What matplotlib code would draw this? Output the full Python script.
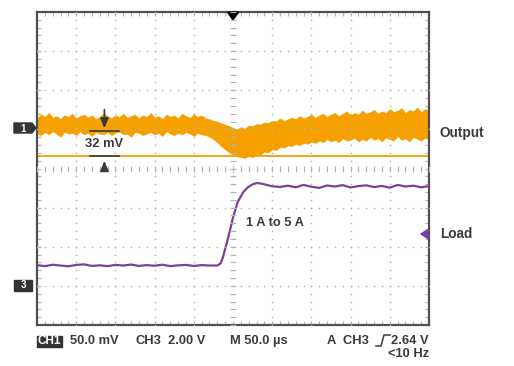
import matplotlib
matplotlib.use('Agg')
import matplotlib.pyplot as plt
import numpy as np
from matplotlib.patches import Polygon, Rectangle
from matplotlib.lines import Line2D

# ---------------- data ----------------
# time axis of the output envelope, microseconds (trigger at 0), 5 us samples
time_us = list(range(-250, 255, 5))
# output voltage noise envelope (mV, relative to CH1 ground marker)
out_upper_mv = [12, 17, 14, 19, 13, 15, 11, 16, 14, 18, 12, 15, 17, 13, 16, 11, 14, 19, 15, 12,
                16, 14, 18, 13, 15, 17, 12, 16, 14, 19, 13, 15, 11, 17, 14, 16, 12, 18, 15, 13,
                17, 14, 16, 12,
                11, 9, 8, 6, 4, 2, 0,
                -2, 1, -1, 3, 2, 5, 4, 7, 6, 9,
                8, 12, 9, 11, 13, 11, 15, 12, 14, 17,
                13, 16, 18, 14, 17, 19, 15, 18, 21, 16,
                19, 17, 22, 18, 20, 23, 18, 21, 19, 24,
                20, 22, 25, 19, 23, 21, 26, 20, 24, 22]
out_lower_mv = [-6, -9, -5, -8, -4, -7, -11, -5, -7, -6, -9, -4, -8, -6, -10, -5, -7, -8, -5, -9,
                -6, -4, -8, -7, -11, -5, -6, -9, -7, -5, -8, -6, -10, -4, -7, -9, -6, -8, -5, -7,
                -10, -6, -8, -9,
                -11, -14, -18, -23, -27, -31, -34,
                -36, -37, -38, -36, -37, -33, -34, -30, -31, -27,
                -28, -24, -25, -22, -23, -20, -22, -19, -20, -17,
                -19, -16, -18, -14, -17, -15, -18, -13, -16, -15,
                -12, -17, -14, -16, -11, -15, -13, -17, -12, -14,
                -16, -10, -15, -13, -17, -11, -14, -16, -12, -14]
ref_level_mv = -36      # horizontal reference line (32 mV below trace)
dip_top_mv = -4         # upper marker of the 32 mV annotation

# load current (CH3, 1 V/A), amps
load_t_us = (list(range(-250, -25, 10))
             + [-20, -16, -13, -6, 0, 6, 13, 19, 25, 31, 37, 43, 50, 60]
             + list(range(70, 251, 10)))
load_a = [1.02, 0.97, 1.04, 1.00, 0.96, 1.03, 1.06, 0.98, 1.01, 0.97,
          1.03, 1.00, 1.05, 0.98, 1.02, 0.99, 1.04, 0.97, 1.01, 1.03,
          0.98, 1.02, 1.00,
          1.00, 1.10, 1.40, 2.45, 3.45, 4.25, 4.75, 5.00, 5.15, 5.22, 5.18, 5.12, 5.05, 5.02,
          5.08, 5.00, 5.12, 5.03, 4.97, 5.09, 5.04, 5.11, 4.99, 5.06,
          5.10, 5.01, 5.07, 4.98, 5.12, 5.04, 5.08, 5.00, 5.06]

# scope settings
CH1_POS, CH1_SCALE = 1.036, 50.0    # div, mV/div
CH3_POS, CH3_SCALE = -2.98, 2.0     # div, V/div

ORANGE = '#f6a000'
PURPLE = '#7b3f9e'
DARK = '#3a3a3a'
GRID = '#b5b5b5'

def ch1(v):
    return CH1_POS + np.asarray(v, dtype=float) / CH1_SCALE

def ch3(v):
    return CH3_POS + np.asarray(v, dtype=float) / CH3_SCALE

# ---------------- figure ----------------
W, H = 514, 366
fig = plt.figure(figsize=(W / 100, H / 100), dpi=100)
L, R, T, B = 37, 429, 12, 325
ax = fig.add_axes([L / W, 1 - B / H, (R - L) / W, (B - T) / H])
ax.set_xlim(-250, 250)
ax.set_ylim(-4, 4)

FONT = 'Liberation Sans'

# traces
ax.fill_between(time_us, ch1(out_lower_mv), ch1(out_upper_mv), color=ORANGE,
                lw=0.6, edgecolor=ORANGE, zorder=2)
ax.axhline(ch1(ref_level_mv), color=ORANGE, lw=1.3, zorder=2)
ax.plot(load_t_us, ch3(load_a), color=PURPLE, lw=1.6, zorder=3)

# graticule dots
ydots = np.arange(-4, 4.001, 0.2)
xdots = np.arange(-250, 250.001, 10)
for xv in np.arange(-200, 201, 50):
    ax.scatter(np.full_like(ydots, xv), ydots, s=1.4, color=GRID, lw=0, zorder=4)
for yv in np.arange(-3, 4, 1):
    ax.scatter(xdots, np.full_like(xdots, yv, dtype=float), s=1.4, color=GRID, lw=0, zorder=4)
# center crosshair ticks
ax.plot(np.zeros_like(ydots), ydots, ls='none', marker='_', ms=5, mew=0.8, color=GRID, zorder=4)
ax.plot(xdots, np.zeros_like(xdots), ls='none', marker='|', ms=5, mew=0.8, color=GRID, zorder=4)

ax.set_xticks(np.arange(-250, 251, 50))
ax.set_xticks(xdots, minor=True)
ax.set_yticks(np.arange(-4, 4.1, 1))
ax.set_yticks(ydots, minor=True)
ax.tick_params(which='both', direction='in', length=3, width=0.8, color=GRID,
               top=True, right=True, labelbottom=False, labelleft=False)
for s in ax.spines.values():
    s.set_color('#505050')
    s.set_linewidth(1.6)

# 32 mV annotation
xa = -164
ax.plot([xa - 18, xa + 18], [ch1(dip_top_mv)] * 2, color=DARK, lw=1.2, zorder=5)
ax.plot([xa - 18, xa + 18], [ch1(ref_level_mv)] * 2, color=DARK, lw=1.2, zorder=5)
ax.annotate('', xy=(xa, ch1(dip_top_mv)), xytext=(xa, ch1(dip_top_mv) + 0.62),
            arrowprops=dict(arrowstyle='-|>,head_length=0.6,head_width=0.25', color=DARK, lw=1.2),
            zorder=5)
ax.annotate('', xy=(xa, ch1(ref_level_mv) - 0.05), xytext=(xa, ch1(ref_level_mv) - 0.4),
            arrowprops=dict(arrowstyle='-|>,head_length=0.6,head_width=0.25', color=DARK, lw=1.2),
            zorder=5)
ax.text(xa, (ch1(dip_top_mv) + ch1(ref_level_mv)) / 2, '32 mV', ha='center', va='center',
        fontsize=9.3, fontweight='bold', color=DARK, family=FONT, zorder=6)

ax.text(16, ch3(3.15), '1 A to 5 A', ha='left', va='center', fontsize=9.3,
        fontweight='bold', color=DARK, family=FONT)

# ---------------- outside decorations (figure pixels) ----------------
def P(px, py):
    return (px / W, 1 - py / H)

# trigger arrow at top
ax.annotate('', xy=P(233, 24), xytext=P(233, 13), xycoords='figure fraction',
            textcoords='figure fraction',
            arrowprops=dict(arrowstyle='-|>,head_length=0.5,head_width=0.35', color='black', lw=1.5))
# load arrow on right
ax.annotate('', xy=P(417, 234), xytext=P(428, 234), xycoords='figure fraction',
            textcoords='figure fraction',
            arrowprops=dict(arrowstyle='-|>,head_length=0.45,head_width=0.3', color=PURPLE, lw=1.4))

# channel markers
fig.add_artist(Polygon([P(14, 123), P(32, 123), P(36, 128), P(32, 133), P(14, 133)],
                       closed=True, transform=fig.transFigure, color='#333333'))
fig.text(*P(23, 128.5), '1', ha='center', va='center', color='white', fontsize=7,
         fontweight='bold', family=FONT)
fig.add_artist(Rectangle(P(14, 291), 18 / W, 11 / H, transform=fig.transFigure, color='#333333'))
fig.text(*P(23, 285.5), '3', ha='center', va='center', color='white', fontsize=7,
         fontweight='bold', family=FONT)

fig.text(*P(439, 133), 'Output', ha='left', va='center', fontsize=9.8, fontweight='bold',
         color=DARK, family=FONT)
fig.text(*P(440, 234), 'Load', ha='left', va='center', fontsize=9.8, fontweight='bold',
         color=DARK, family=FONT)

# bottom status line
fig.add_artist(Rectangle(P(37, 347), 25 / W, 11 / H, transform=fig.transFigure, color='#333333'))
fig.text(*P(49.5, 341.5), 'CH1', ha='center', va='center', color='white', fontsize=8.5,
         fontweight='bold', family=FONT)
kw = dict(va='center', fontsize=9.3, fontweight='bold', color=DARK, family=FONT)
fig.text(*P(70, 341), '50.0 mV', ha='left', **kw)
fig.text(*P(135, 341), 'CH3', ha='left', **kw)
fig.text(*P(168, 341), '2.00 V', ha='left', **kw)
fig.text(*P(230, 341), 'M 50.0 µs', ha='left', **kw)
fig.text(*P(369, 341), 'A  CH3', ha='right', **kw)
fig.add_artist(Line2D([P(376, 346)[0], P(381, 346)[0], P(384, 335)[0], P(390, 335)[0]],
                      [P(376, 346)[1], P(381, 346)[1], P(384, 335)[1], P(390, 335)[1]],
                      transform=fig.transFigure, color=DARK, lw=1.1))
fig.text(*P(429, 341), '2.64 V', ha='right', **kw)
fig.text(*P(429, 354), '<10 Hz', ha='right', **kw)

fig.savefig('out.png', dpi=100)
